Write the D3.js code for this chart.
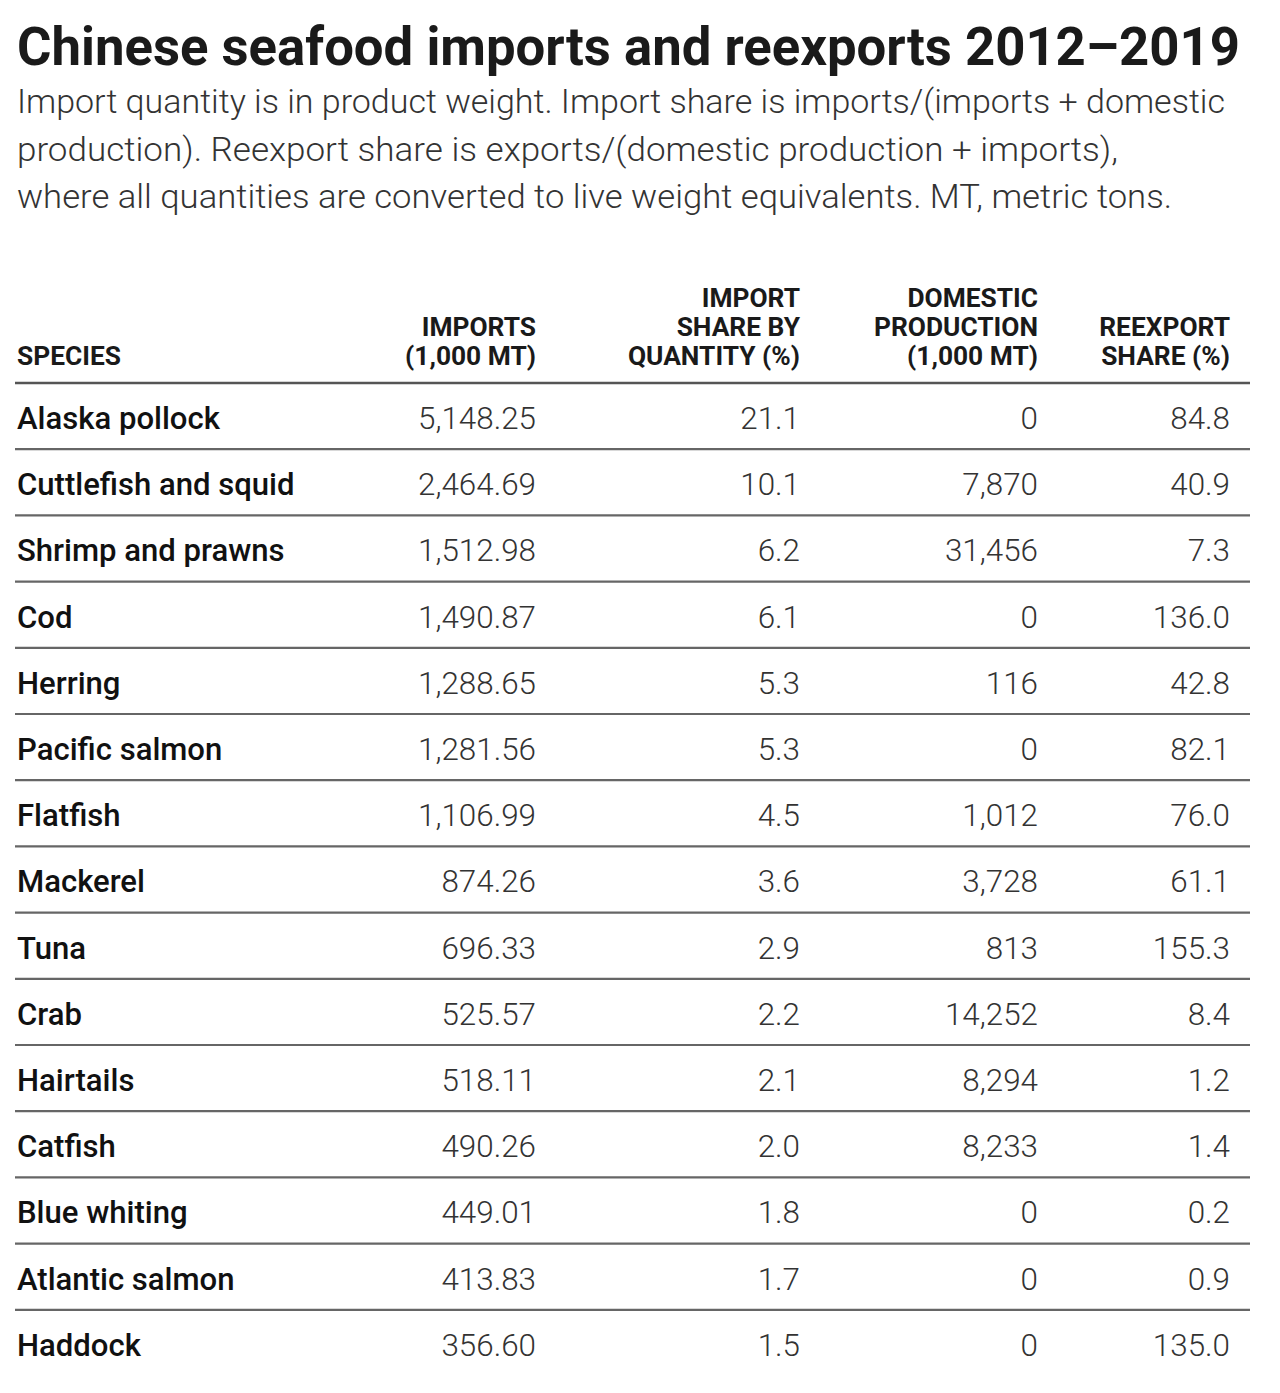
<!DOCTYPE html>
<html><head><meta charset="utf-8">
<script src="https://cdn.jsdelivr.net/npm/d3@7"></script>
<style>
html,body{margin:0;padding:0;background:#fff;}
svg{display:block;}
</style></head>
<body>
<script>
const species = ["Alaska pollock","Cuttlefish and squid","Shrimp and prawns","Cod","Herring","Pacific salmon","Flatfish","Mackerel","Tuna","Crab","Hairtails","Catfish","Blue whiting","Atlantic salmon","Haddock"];
const imports = [5148.25,2464.69,1512.98,1490.87,1288.65,1281.56,1106.99,874.26,696.33,525.57,518.11,490.26,449.01,413.83,356.60];
const importShare = [21.1,10.1,6.2,6.1,5.3,5.3,4.5,3.6,2.9,2.2,2.1,2.0,1.8,1.7,1.5];
const domestic = [0,7870,31456,0,116,0,1012,3728,813,14252,8294,8233,0,0,0];
const reexportShare = [84.8,40.9,7.3,136.0,42.8,82.1,76.0,61.1,155.3,8.4,1.2,1.4,0.2,0.9,135.0];
const headers = [["SPECIES"],["IMPORTS","(1,000 MT)"],["IMPORT","SHARE BY","QUANTITY (%)"],["DOMESTIC","PRODUCTION","(1,000 MT)"],["REEXPORT","SHARE (%)"]];
const title = "Chinese seafood imports and reexports 2012\u20132019";
const subtitle = ["Import quantity is in product weight. Import share is imports/(imports + domestic",
 "production). Reexport share is exports/(domestic production + imports),",
 "where all quantities are converted to live weight equivalents. MT, metric tons."];

const W = 1280, H = 1393;
const svg = d3.select("body").append("svg").attr("width", W).attr("height", H);
const FONT = "Roboto, 'Liberation Sans', sans-serif";

// title
svg.append("text").attr("x", 17).attr("y", 65).text(title)
  .attr("font-family", FONT).attr("font-weight", 700).attr("font-size", 53).attr("fill", "#1a1a1a")
  .attr("textLength", 1223).attr("lengthAdjust", "spacingAndGlyphs");
const subW = [1208, 1101, 1155];
svg.selectAll("text.sub").data(subtitle).join("text").attr("class","sub")
  .attr("x", 17).attr("y", (d,i) => 113 + i*47.5).text(d => d)
  .attr("font-family", FONT).attr("font-weight", 300).attr("font-size", 34).attr("fill", "#333")
  .attr("textLength", (d,i) => subW[i]).attr("lengthAdjust", "spacingAndGlyphs");

// scales
const tableTop = 383, rowH = 66.2;
const y = d3.scaleBand().domain(species).range([tableTop, tableTop + rowH*species.length]);
const colKeys = ["species","imports","share","domestic","reexport"];
const colX = d3.scaleOrdinal().domain(colKeys).range([17, 536, 800, 1038, 1230]);
const colAnchor = d3.scaleOrdinal().domain(colKeys).range(["start","end","end","end","end"]);

function measure(str, size, weight){
  const t = svg.append("text").attr("font-family", FONT).attr("font-size", size).attr("font-weight", weight).text(str);
  const w = t.node().getComputedTextLength(); t.remove(); return w;
}
const fSpecies = 203 / measure("Alaska pollock", 32, 500);
const fNum = 118 / measure("5,148.25", 32, 300);
const fHead = 131 / measure("(1,000 MT)", 25, 700);

// headers
const hg = svg.append("g");
headers.forEach((lines, ci) => {
  const key = colKeys[ci];
  lines.forEach((ln, li) => {
    const baseline = 365 - (lines.length - 1 - li) * 29;
    hg.append("text")
      .attr("transform", `translate(${colX(key)},${baseline}) scale(${fHead},1.06)`)
      .attr("text-anchor", colAnchor(key))
      .attr("font-family", FONT).attr("font-weight", 700).attr("font-size", 25).attr("fill", "#1a1a1a")
      .text(ln);
  });
});

// rules
svg.append("line").attr("x1", 15).attr("x2", 1250).attr("y1", tableTop).attr("y2", tableTop)
  .attr("stroke", "#555").attr("stroke-width", 2.6);
svg.selectAll("line.row").data(species.slice(0, -1)).join("line").attr("class","row")
  .attr("x1", 15).attr("x2", 1250)
  .attr("y1", d => y(d) + y.bandwidth()).attr("y2", d => y(d) + y.bandwidth())
  .attr("stroke", "#666").attr("stroke-width", 2.2);

// rows
const rows = species.map((s, i) => ({species: s, imports: imports[i], share: importShare[i], domestic: domestic[i], reexport: reexportShare[i]}));
const fmt = {imports: d3.format(",.2f"), share: d3.format(".1f"), domestic: d3.format(",d"), reexport: d3.format(".1f")};
const rg = svg.selectAll("g.r").data(rows).join("g").attr("class","r");
rg.append("text")
  .attr("transform", d => `translate(${colX("species")},${y(d.species) + 46}) scale(${fSpecies},1)`)
  .attr("font-family", FONT).attr("font-weight", 500).attr("font-size", 32).attr("fill", "#111")
  .text(d => d.species);
["imports","share","domestic","reexport"].forEach(k => {
  rg.append("text")
    .attr("transform", d => `translate(${colX(k)},${y(d.species) + 46}) scale(${fNum},1)`)
    .attr("text-anchor", "end")
    .attr("font-family", FONT).attr("font-weight", 300).attr("font-size", 32).attr("fill", "#333")
    .text(d => fmt[k](d[k]));
});
</script>
</body></html>
